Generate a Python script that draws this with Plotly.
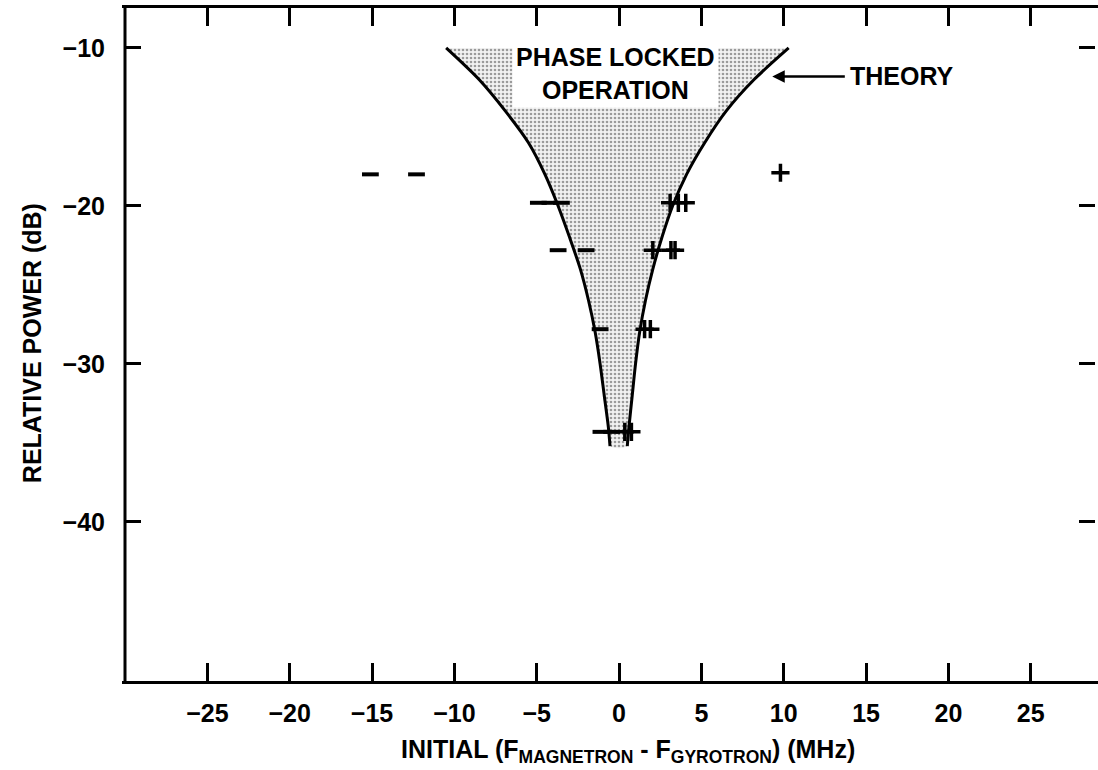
import plotly.graph_objects as go

# Theory curve: relative power (dB) vs. locking edge (MHz)
theory_y = [-10, -12, -14, -16, -18, -20, -22, -24, -26, -28, -30, -32, -34, -35.2]
theory_right = [10.3, 8.2, 6.5, 5.2, 4.1, 3.25, 2.6, 2.05, 1.6, 1.25, 1.0, 0.8, 0.6, 0.5]
theory_left = [-10.5, -8.5, -6.9, -5.5, -4.5, -3.7, -3.0, -2.35, -1.85, -1.45, -1.15, -0.9, -0.65, -0.55]

# Measured points shown as "-" marks
minus_x = [-15.1, -12.3, -4.9, -4.2, -3.5, -3.7, -2.0, -1.15, -1.1, -0.45]
minus_y = [-18, -18, -19.8, -19.8, -19.8, -22.8, -22.8, -27.8, -34.3, -34.3]

# Measured points shown as "+" marks
plus_x = [9.8, 3.1, 3.6, 4.05, 2.05, 3.15, 3.4, 1.55, 1.9, 0.35, 0.75]
plus_y = [-17.9, -19.8, -19.8, -19.8, -22.8, -22.8, -22.8, -27.8, -27.8, -34.3, -34.3]

x_ticks = [-25, -20, -15, -10, -5, 0, 5, 10, 15, 20, 25]
y_ticks = [-10, -20, -30, -40]

FONT = "Liberation Sans, Arial, sans-serif"

fig = go.Figure()

# shaded phase-locked region
fig.add_trace(go.Scatter(
    x=theory_left + theory_right[::-1],
    y=theory_y + theory_y[::-1],
    fill="toself", mode="none",
    fillcolor="rgba(0,0,0,0)",
    line=dict(shape="spline"),
    fillpattern=dict(shape=".", fgcolor="#444444", bgcolor="#f2f2f2",
                     size=4, solidity=0.35),
    hoverinfo="skip", showlegend=False,
))
# theory curves
for xs in (theory_left, theory_right):
    fig.add_trace(go.Scatter(x=xs, y=theory_y, mode="lines",
                             line=dict(color="black", width=3, shape="spline", smoothing=0.8),
                             showlegend=False))

fig.add_trace(go.Scatter(x=minus_x, y=minus_y, mode="markers",
                         marker=dict(symbol="line-ew", size=12,
                                     line=dict(color="black", width=4)),
                         showlegend=False))
fig.add_trace(go.Scatter(x=plus_x, y=plus_y, mode="markers",
                         marker=dict(symbol="cross-thin", size=13,
                                     line=dict(color="black", width=3.5)),
                         showlegend=False))

fig.update_layout(
    width=1098, height=770,
    margin=dict(l=125, r=0, t=8, b=89),
    plot_bgcolor="white", paper_bgcolor="white",
    font=dict(family=FONT, size=25, color="black", weight="bold"),
    xaxis=dict(range=[-30.0, 28.9], tickvals=x_ticks,
               ticktext=[str(v).replace("-", "\u2212") for v in x_ticks],
               ticks="inside", ticklen=18, tickwidth=3, tickcolor="black",
               showline=True, linewidth=3, linecolor="black", mirror="ticks",
               showgrid=False, zeroline=False, ticklabelstandoff=8,
               tickfont=dict(size=25, weight="bold")),
    yaxis=dict(range=[-50.07, -7.47], tickvals=y_ticks,
               ticktext=[str(v).replace("-", "\u2212") for v in y_ticks],
               ticks="inside", ticklen=16, tickwidth=3, tickcolor="black",
               showline=True, linewidth=3, linecolor="rgba(0,0,0,0)", mirror="ticks",
               showgrid=False, zeroline=False, ticklabelstandoff=12,
               tickfont=dict(size=25, weight="bold")),
    shapes=[dict(type="line", xref="paper", yref="paper", x0=0, x1=0, y0=0, y1=1,
                 line=dict(color="black", width=3), layer="above")],
)

fig.add_annotation(x=-0.2, y=-11.6, xref="x", yref="y",
                   text="PHASE LOCKED<br>OPERATION", showarrow=False,
                   bgcolor="white", borderpad=3,
                   font=dict(size=25, family=FONT, weight="bold"))
fig.add_annotation(x=13.9, y=-11.8, xref="x", yref="y", text="THEORY",
                   showarrow=False, xanchor="left",
                   font=dict(size=25, family=FONT, weight="bold"))
fig.add_annotation(x=9.3, y=-11.8, ax=13.8, ay=-11.8, xref="x", yref="y",
                   axref="x", ayref="y", text="", showarrow=True,
                   arrowhead=2, arrowsize=1, arrowwidth=2.5, arrowcolor="black")

fig.add_annotation(x=0.519, y=0, xref="paper", yref="paper", yanchor="top",
                   yshift=-52, showarrow=False,
                   text="INITIAL (F<sub>MAGNETRON</sub> - F<sub>GYROTRON</sub>) (MHz)",
                   font=dict(size=25, family=FONT, weight="bold"))
fig.add_annotation(x=0, y=0.502, xref="paper", yref="paper", xanchor="center",
                   xshift=-93, showarrow=False, textangle=-90,
                   text="RELATIVE POWER (dB)",
                   font=dict(size=25, family=FONT, weight="bold"))

fig.write_html("out.html", config={"displayModeBar": False},
               post_script="document.body.style.margin='0';document.body.style.overflow='hidden';")
